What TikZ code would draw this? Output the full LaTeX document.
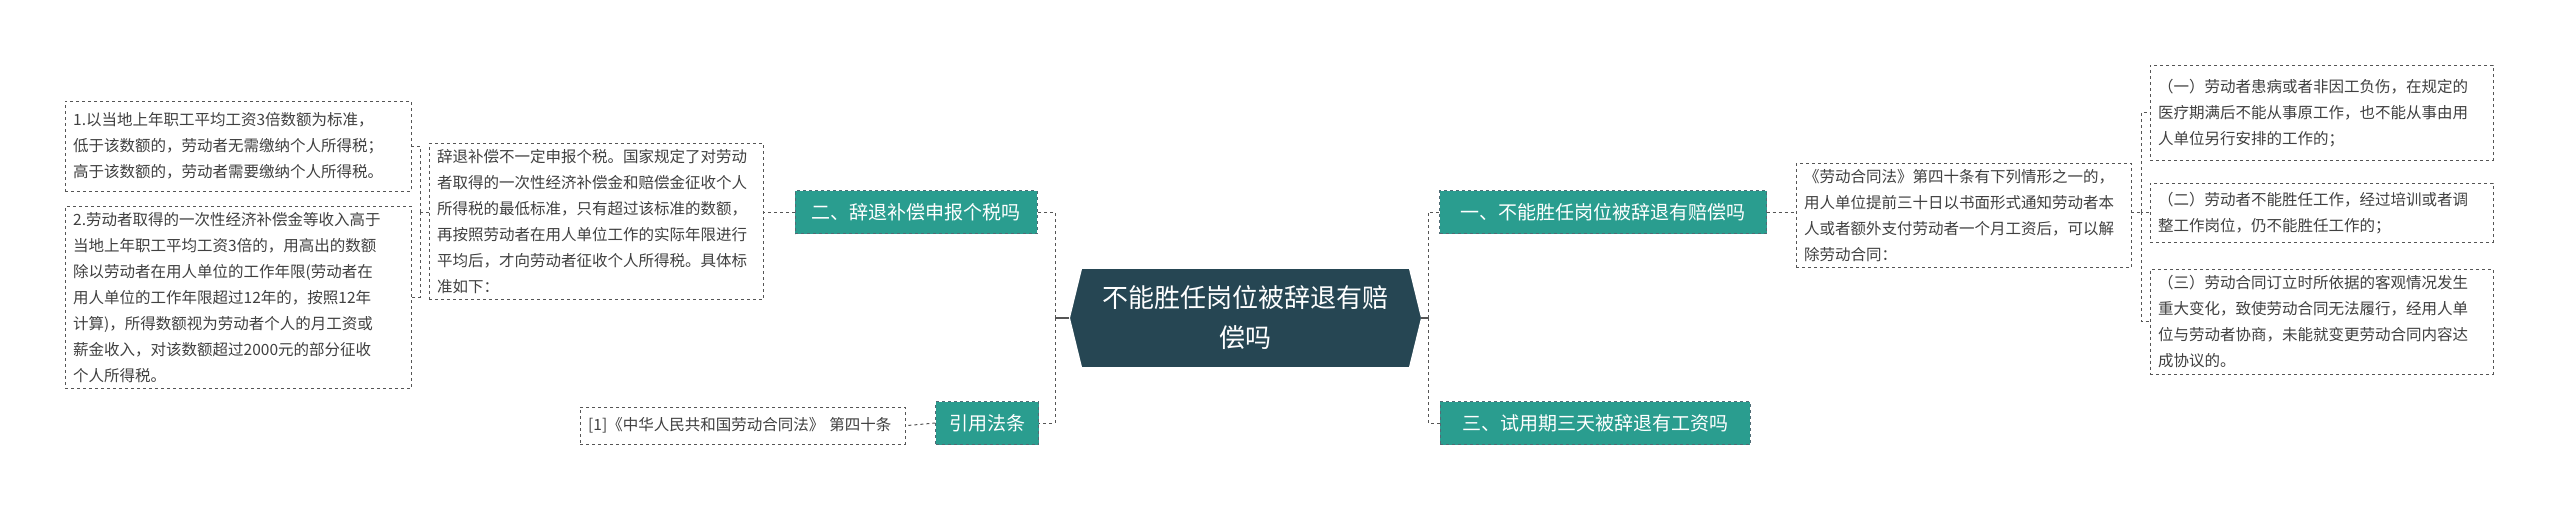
\documentclass[tikz,border=0pt]{standalone}
\usepackage{fontspec}
\setmainfont{Noto Sans CJK SC}
\usetikzlibrary{shapes.geometric}
\definecolor{teal1}{HTML}{2A9D8F}
\definecolor{dark1}{HTML}{264653}
\definecolor{ln}{HTML}{555555}
\tikzset{
 branch/.style={fill=teal1,draw=dark1!80,dashed,text=white,font=\fontsize{19}{23}\selectfont,inner xsep=8pt,minimum height=43pt},
 leaf/.style={draw=ln,dashed,fill=white,text=black!75,font=\fontsize{15.5}{26}\selectfont,align=left,inner xsep=8pt,inner ysep=6pt,anchor=north west},
 conn/.style={draw=ln,dashed,line width=1pt},
}
\begin{document}
\begin{tikzpicture}[x=1pt,y=-1pt]
\useasboundingbox (0,0) rectangle (2560,517);
% center
\node[fill=dark1,text=white,font=\fontsize{26}{40}\selectfont,align=center,minimum width=351pt,minimum height=98pt,text width=310pt] (c) at (1245,318) {不能胜任岗位被辞退有赔\\偿吗};
\fill[white] (1070,269)--(1082,269)--(1070,318)--(1082,367)--(1070,367)--cycle;
\fill[white] (1421,269)--(1409,269)--(1421,318)--(1409,367)--(1421,367)--cycle;
% branches
\node[branch,minimum width=242pt] (b2) at (916,212) {二、辞退补偿申报个税吗};
\node[branch,minimum width=103pt] (b4) at (987,423) {引用法条};
\node[branch,minimum width=327pt] (b1) at (1603,212) {一、不能胜任岗位被辞退有赔偿吗};
\node[branch,minimum width=310pt] (b3) at (1595,423) {三、试用期三天被辞退有工资吗};
% leaves
\node[leaf,text width=318pt,minimum width=334pt,minimum height=138pt] (m2) at (429,143) {辞退补偿不一定申报个税。国家规定了对劳动\\者取得的一次性经济补偿金和赔偿金征收个人\\所得税的最低标准，只有超过该标准的数额，\\再按照劳动者在用人单位工作的实际年限进行\\平均后，才向劳动者征收个人所得税。具体标\\准如下：};
\node[leaf,text width=330pt,minimum width=346pt,minimum height=90pt] (l1) at (65,101) {1.以当地上年职工平均工资3倍数额为标准，\\低于该数额的，劳动者无需缴纳个人所得税；\\高于该数额的，劳动者需要缴纳个人所得税。};
\node[leaf,text width=330pt,minimum width=346pt,minimum height=160pt] (l2) at (65,206) {2.劳动者取得的一次性经济补偿金等收入高于\\当地上年职工平均工资3倍的，用高出的数额\\除以劳动者在用人单位的工作年限(劳动者在\\用人单位的工作年限超过12年的，按照12年\\计算)，所得数额视为劳动者个人的月工资或\\薪金收入，对该数额超过2000元的部分征收\\个人所得税。};
\node[leaf,text width=309pt,minimum width=325pt,minimum height=37pt,inner ysep=3pt] (r1) at (580,407) {[1]《中华人民共和国劳动合同法》 第四十条};
\node[leaf,text width=319pt,minimum width=335pt,minimum height=95pt] (m1) at (1796,163) {《劳动合同法》第四十条有下列情形之一的，\\用人单位提前三十日以书面形式通知劳动者本\\人或者额外支付劳动者一个月工资后，可以解\\除劳动合同：};
\node[leaf,text width=327pt,minimum width=343pt,minimum height=95pt] (k1) at (2150,65) {（一）劳动者患病或者非因工负伤，在规定的\\医疗期满后不能从事原工作，也不能从事由用\\人单位另行安排的工作的；};
\node[leaf,text width=327pt,minimum width=343pt,minimum height=59pt] (k2) at (2150,183) {（二）劳动者不能胜任工作，经过培训或者调\\整工作岗位，仍不能胜任工作的；};
\node[leaf,text width=327pt,minimum width=343pt,minimum height=98pt] (k3) at (2150,269) {（三）劳动合同订立时所依据的客观情况发生\\重大变化，致使劳动合同无法履行，经用人单\\位与劳动者协商，未能就变更劳动合同内容达\\成协议的。};
% connectors
\draw[draw=ln,line width=1.2pt] (c.west) -- (1055,318);
\draw[draw=ln,line width=1.2pt] (c.east) -- (1428,318);
\draw[conn] (1055,318) |- (b2.east);
\draw[conn] (1055,318) |- (b4.east);
\draw[conn] (1428,318) |- (b1.west);
\draw[conn] (1428,318) |- (b3.west);
\draw[conn] (b2.west) -- (m2.east |- b2.west);
\draw[conn] (b4.west) -- (r1.east);
\draw[conn] (b1.east) -- (m1.west |- b1.east);
\draw[conn] (m2.west |- b2.west) -- (420,212);
\draw[conn] (420,212) |- (l1.east);
\draw[conn] (420,212) |- (l2.east);
\draw[conn] (m1.east |- b1.east) -- (2141,212);
\draw[conn] (2141,212) |- (k1.west);
\draw[conn] (2141,212) |- (k2.west);
\draw[conn] (2141,212) |- (k3.west);
\end{tikzpicture}
\end{document}
